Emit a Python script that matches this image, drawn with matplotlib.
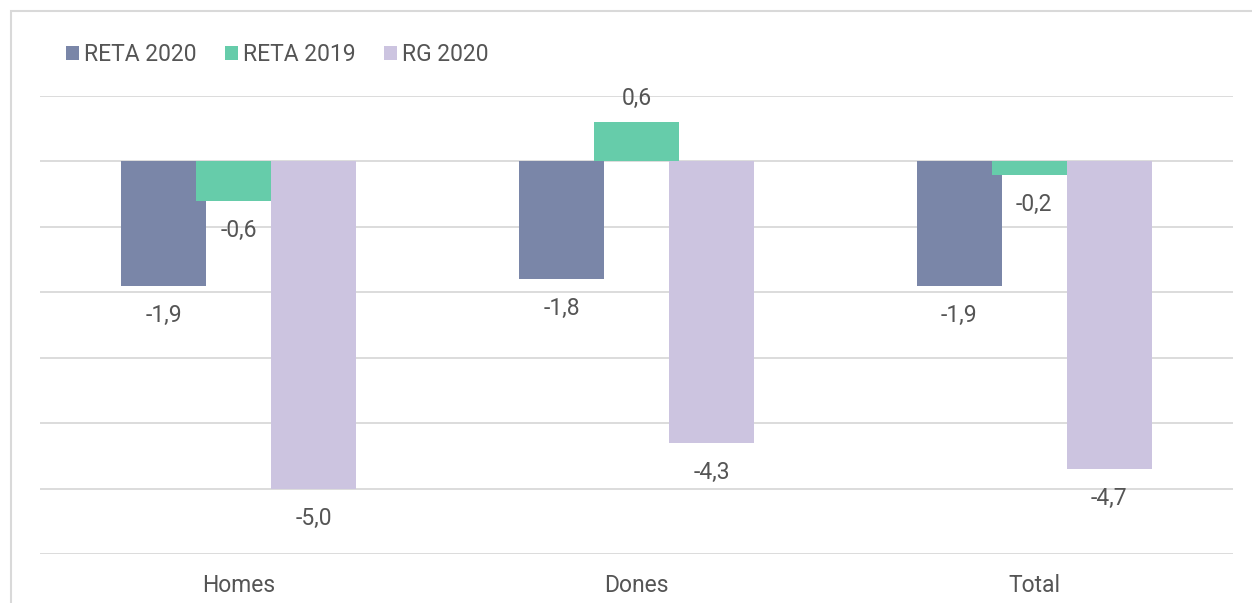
import matplotlib
matplotlib.use("Agg")
import matplotlib.pyplot as plt
from matplotlib.patches import Rectangle
import numpy as np

categories = ["Homes", "Dones", "Total"]
series_names = ["RETA 2020", "RETA 2019", "RG 2020"]
reta_2020 = [-1.9, -1.8, -1.9]
reta_2019 = [-0.6, 0.6, -0.2]
rg_2020 = [-5.0, -4.3, -4.7]
colors = ["#7a86a8", "#66ccaa", "#ccc4e0"]

plt.rcParams['font.family'] = ['Roboto', 'DejaVu Sans']
text_color = "#555555"
grid_color = "#d9d9d9"
fs = 16.5

W, H = 1252, 603
dpi = 100
fig = plt.figure(figsize=(W / dpi, H / dpi), dpi=dpi)

# outer chart border (light grey)
fig.patches.append(Rectangle((10.5 / W, -0.1), 2.0, (H - 11.5) / H + 0.1,
                             transform=fig.transFigure, fill=False,
                             edgecolor=grid_color, linewidth=1.5))

left, right, top, bottom = 40, 1233, 96, 554
ax = fig.add_axes([left / W, (H - bottom) / H, (right - left) / W, (bottom - top) / H])

ax.set_xlim(-0.5, 2.5)
ax.set_ylim(-6, 1)
ax.set_yticks(np.arange(-6, 2, 1))
ax.yaxis.grid(True, color=grid_color, linewidth=1.3)
ax.set_axisbelow(True)
for s in ax.spines.values():
    s.set_visible(False)
ax.tick_params(axis='y', left=False, labelleft=False)
ax.tick_params(axis='x', bottom=False, labelsize=fs, labelcolor=text_color, pad=11)

x = np.arange(len(categories))
px_per_cat = (right - left) / 3.0
bar_w = 85 / px_per_cat
step = 75 / px_per_cat
data = [reta_2020, reta_2019, rg_2020]
handles = []
for i, (vals, name, col) in enumerate(zip(data, series_names, colors)):
    xs = x + (i - 1) * step
    b = ax.bar(xs, vals, width=bar_w, color=col, label=name, zorder=2 + i)
    handles.append(b)
    for xi, v in zip(xs, vals):
        off = 24 if v >= 0 else -29.5
        ax.annotate(f"{v:.1f}".replace(".", ","), (xi, v),
                    xytext=(0, off * 72 / dpi), textcoords="offset points",
                    ha="center", va="center", fontsize=fs, color=text_color,
                    zorder=10)

ax.set_xticks(x)
ax.set_xticklabels(categories)

leg = fig.legend(handles=handles, labels=series_names, loc="center left",
                 bbox_to_anchor=(66 / W, 1 - 54.5 / H), ncol=3, frameon=False,
                 fontsize=fs, handlelength=0.58, handleheight=0.58,
                 handletextpad=0.2, columnspacing=1.25, labelcolor=text_color,
                 borderaxespad=0, borderpad=0)

fig.savefig("out.png", dpi=dpi)
